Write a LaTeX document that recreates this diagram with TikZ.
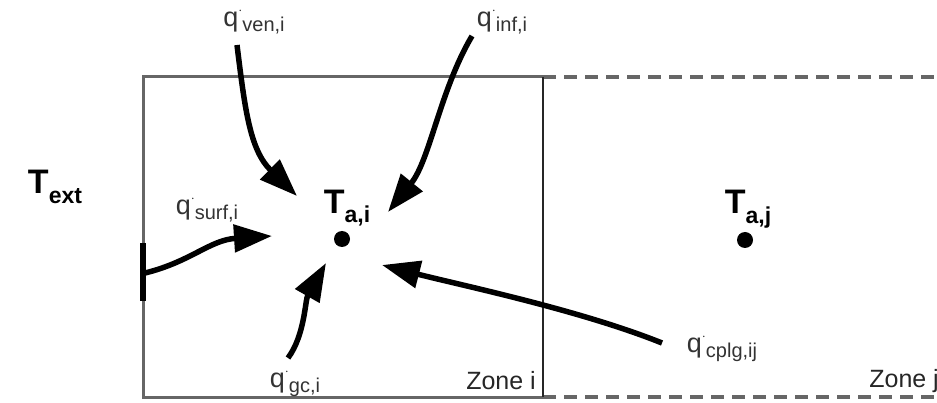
\documentclass[tikz,border=0pt]{standalone}
\usepackage{fontspec}
\setmainfont{Liberation Sans}
\usetikzlibrary{arrows.meta}
\newcommand{\qdot}[1]{q\raisebox{0.45em}{\fontsize{14}{14}\selectfont$\cdot$}\raisebox{-0.2em}{\fontsize{20}{20}\selectfont #1}}
\newcommand{\tsub}[1]{T\raisebox{-0.28em}{\fontsize{23}{23}\selectfont #1}}
\begin{document}
\begin{tikzpicture}[x=1pt,y=-1pt,
  heat/.style={line width=5.5pt,-{Triangle[length=38pt,width=27pt]}},
  qlab/.style={inner sep=0pt,text=black!80,font=\fontsize{27}{27}\selectfont},
  tlab/.style={inner sep=0pt,font=\bfseries\fontsize{34}{34}\selectfont},
  zlab/.style={inner sep=0pt,text=black!85,font=\fontsize{25}{25}\selectfont},
  pt/.style={circle,fill=black,inner sep=0pt,minimum size=16pt}]
\useasboundingbox (0,0) rectangle (937,403);
% boxes
\draw[black!60,line width=3pt] (543,77) -- (143,77) -- (143,397) -- (543,397);
\draw[black!60,line width=3.5pt,dash pattern=on 13pt off 8pt] (543,77) -- (940,77);
\draw[black!60,line width=3.5pt,dash pattern=on 13pt off 8pt] (543,397) -- (940,397);
\draw[black!85,line width=1.2pt] (543,77) -- (543,397);
\draw[line width=6pt] (143,243) -- (143,301);
% labels
\node[tlab] (text) at (55,187) {\tsub{ext}};
\node[tlab] (tai) at (347,208) {\tsub{a,i}};
\node[tlab] (taj) at (748,209) {\tsub{a,j}};
\node[pt] (pi) at (342,239) {};
\node[pt] (pj) at (745,240) {};
\node[qlab] (qven) at (254,21) {\qdot{ven,i}};
\node[qlab] (qinf) at (502,21) {\qdot{inf,i}};
\node[qlab] (qsurf) at (207,209) {\qdot{surf,i}};
\node[qlab] (qgc) at (295,383) {\qdot{gc,i}};
\node[qlab] (qcplg) at (722,348) {\qdot{cplg,ij}};
\node[zlab,anchor=east] (zi) at (536,381) {Zone i};
\node[zlab,anchor=east] (zj) at (939,381) {Zone j};
% arrows
\coordinate (sven) at (237,45);
\coordinate (tven) at (297,196);
\coordinate (sinf) at (472,36);
\coordinate (tinf) at (388,212);
\coordinate (ssurf) at (145,273);
\coordinate (tsurf) at (272,236);
\coordinate (sgc) at (288,358);
\coordinate (tgc) at (326,263);
\coordinate (scplg) at (662,343);
\coordinate (tcplg) at (382,265);
\draw[heat] (sven) .. controls (245,110) and (250,150) .. (tven);
\draw[heat] (sinf) .. controls (440,90) and (430,160) .. (tinf);
\draw[heat] (ssurf) .. controls (190,262) and (210,240) .. (tsurf);
\draw[heat] (sgc) .. controls (305,335) and (305,300) .. (tgc);
\draw[heat] (scplg) .. controls (580,310) and (460,285) .. (tcplg);
\end{tikzpicture}
\end{document}
